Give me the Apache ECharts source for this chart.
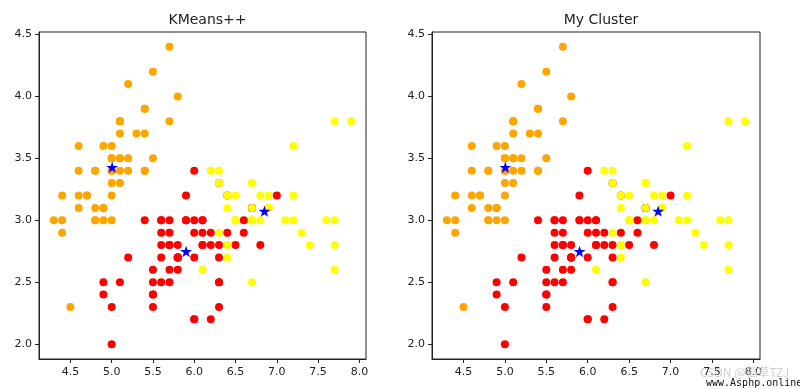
<!DOCTYPE html>
<html>
<head>
<meta charset="utf-8">
<script src="https://cdn.jsdelivr.net/npm/echarts@6/dist/echarts.min.js"></script>
<style>
html,body{margin:0;padding:0;background:#fff;}
#chart{width:800px;height:389px;}
</style>
</head>
<body>
<div id="chart"></div>
<script>
// Iris sepal length / sepal width (150 samples)
const sepalLength = [
5.1,4.9,4.7,4.6,5.0,5.4,4.6,5.0,4.4,4.9,5.4,4.8,4.8,4.3,5.8,5.7,5.4,5.1,5.7,5.1,5.4,5.1,4.6,5.1,4.8,5.0,5.0,5.2,5.2,4.7,4.8,5.4,5.2,5.5,4.9,5.0,5.5,4.9,4.4,5.1,5.0,4.5,4.4,5.0,5.1,4.8,5.1,4.6,5.3,5.0,
7.0,6.4,6.9,5.5,6.5,5.7,6.3,4.9,6.6,5.2,5.0,5.9,6.0,6.1,5.6,6.7,5.6,5.8,6.2,5.6,5.9,6.1,6.3,6.1,6.4,6.6,6.8,6.7,6.0,5.7,5.5,5.5,5.8,6.0,5.4,6.0,6.7,6.3,5.6,5.5,5.5,6.1,5.8,5.0,5.6,5.7,5.7,6.2,5.1,5.7,
6.3,5.8,7.1,6.3,6.5,7.6,4.9,7.3,6.7,7.2,6.5,6.4,6.8,5.7,5.8,6.4,6.5,7.7,7.7,6.0,6.9,5.6,7.7,6.3,6.7,7.2,6.2,6.1,6.4,7.2,7.4,7.9,6.4,6.3,6.1,7.7,6.3,6.4,6.0,6.9,6.7,6.9,5.8,6.8,6.7,6.7,6.3,6.5,6.2,5.9
];
const sepalWidth = [
3.5,3.0,3.2,3.1,3.6,3.9,3.4,3.4,2.9,3.1,3.7,3.4,3.0,3.0,4.0,4.4,3.9,3.5,3.8,3.8,3.4,3.7,3.6,3.3,3.4,3.0,3.4,3.5,3.4,3.2,3.1,3.4,4.1,4.2,3.1,3.2,3.5,3.6,3.0,3.4,3.5,2.3,3.2,3.5,3.8,3.0,3.8,3.2,3.7,3.3,
3.2,3.2,3.1,2.3,2.8,2.8,3.3,2.4,2.9,2.7,2.0,3.0,2.2,2.9,2.9,3.1,3.0,2.7,2.2,2.5,3.2,2.8,2.5,2.8,2.9,3.0,2.8,3.0,2.9,2.6,2.4,2.4,2.7,2.7,3.0,3.4,3.1,2.3,3.0,2.5,2.6,3.0,2.6,2.3,2.7,3.0,2.9,2.9,2.5,2.8,
3.3,2.7,3.0,2.9,3.0,3.0,2.5,2.9,2.5,3.6,3.2,2.7,3.0,2.5,2.8,3.2,3.0,3.8,2.6,2.2,3.2,2.8,2.8,2.7,3.3,3.2,2.8,3.0,2.8,3.0,2.8,3.8,2.8,2.8,2.6,3.0,3.4,3.1,3.0,3.1,3.1,3.1,2.7,3.2,3.3,3.0,2.5,3.0,3.4,3.0
];
// cluster labels: 0 = red, 1 = orange, 2 = yellow
const kmeansLabels = [
1,1,1,1,1,1,1,1,1,1,1,1,1,1,1,1,1,1,1,1,1,1,1,1,1,1,1,1,1,1,1,1,1,1,1,1,1,1,1,1,1,1,1,1,1,1,1,1,1,1,
0,0,2,0,0,0,0,0,0,0,0,0,0,0,0,0,0,0,0,0,0,0,0,0,0,0,0,2,0,0,0,0,0,0,0,0,0,0,0,0,0,0,0,0,0,0,0,0,0,0,
2,0,2,2,2,2,0,2,2,2,2,2,2,0,0,2,2,2,2,0,2,0,2,0,2,2,0,0,2,2,2,2,2,0,2,2,2,2,0,2,2,2,0,2,2,2,0,2,2,0
];
const myLabels = kmeansLabels.slice();
const kmeansCentersX = [5.9016, 5.006, 6.85];
const kmeansCentersY = [2.7484, 3.428, 3.0737];
const myCentersX = [5.9016, 5.006, 6.85];
const myCentersY = [2.7484, 3.428, 3.0737];
const clusterColors = ['#ff0000', '#ffa500', '#ffff00'];
const titles = ['KMeans++', 'My Cluster'];
const xTicks = [4.5, 5.0, 5.5, 6.0, 6.5, 7.0, 7.5, 8.0];
const yTicks = [2.0, 2.5, 3.0, 3.5, 4.0, 4.5];

const STAR = 'path://M50 0 L61.23 34.55 L97.55 34.55 L68.16 55.9 L79.39 90.45 L50 69.1 L20.61 90.45 L31.84 55.9 L2.45 34.55 L38.77 34.55 Z';
const FONT = 'DejaVu Sans';

function pointsFor(labels, c) {
  const out = [];
  for (let i = 0; i < sepalLength.length; i++) {
    if (labels[i] === c) out.push([sepalLength[i], sepalWidth[i]]);
  }
  return out;
}

const grids = [
  {left: 39, top: 32, width: 327, height: 327},
  {left: 432, top: 32, width: 328, height: 327}
];

function xAxis(g) {
  return {
    type: 'value', gridIndex: g, min: 4.12, max: 8.08,
    splitLine: {show: false},
    axisLine: {show: true, onZero: false, lineStyle: {color: '#222', width: 1}},
    axisTick: {show: true, length: 4, customValues: xTicks, lineStyle: {color: '#222'}},
    axisLabel: {customValues: xTicks, margin: 8, color: '#222', fontSize: 11, fontFamily: FONT,
      formatter: v => v.toFixed(1)}
  };
}
function yAxis(g) {
  return {
    type: 'value', gridIndex: g, min: 1.88, max: 4.52,
    splitLine: {show: false},
    axisLine: {show: true, onZero: false, lineStyle: {color: '#222', width: 1}},
    axisTick: {show: true, length: 4, customValues: yTicks, lineStyle: {color: '#222'}},
    axisLabel: {customValues: yTicks, margin: 7, color: '#222', fontSize: 11, fontFamily: FONT,
      formatter: v => v.toFixed(1)}
  };
}

const series = [];
[[kmeansLabels, kmeansCentersX, kmeansCentersY], [myLabels, myCentersX, myCentersY]].forEach((set, g) => {
  [0, 1, 2].forEach(c => {
    series.push({
      type: 'scatter', xAxisIndex: g, yAxisIndex: g,
      data: pointsFor(set[0], c), symbol: 'circle', symbolSize: 8,
      itemStyle: {color: clusterColors[c], opacity: 1},
      emphasis: {disabled: true}, animation: false
    });
  });
  series.push({
    type: 'scatter', xAxisIndex: g, yAxisIndex: g,
    data: set[1].map((x, i) => [x, set[2][i]]),
    symbol: STAR, symbolSize: 12, symbolKeepAspect: true,
    itemStyle: {color: '#0000ff', opacity: 1}, z: 5,
    emphasis: {disabled: true}, animation: false
  });
});

const chart = echarts.init(document.getElementById('chart'), null, {renderer: 'canvas'});
chart.setOption({
  backgroundColor: '#fff',
  animation: false,
  title: titles.map((t, i) => ({
    text: t, left: grids[i].left + grids[i].width / 2, top: 8, textAlign: 'center',
    textStyle: {fontFamily: FONT, fontSize: 14, fontWeight: 'normal', color: '#222'}
  })),
  grid: grids.map(g => Object.assign({show: true, borderColor: '#222', borderWidth: 1, backgroundColor: '#fff'}, g)),
  xAxis: [xAxis(0), xAxis(1)],
  yAxis: [yAxis(0), yAxis(1)],
  series: series,
  graphic: [
    {type: 'text', left: 700, top: 366, style: {text: 'CSDN @稻草TZJ', fill: '#d0d0d0', font: '12px "Noto Sans CJK SC"'}, z: 10},
    {type: 'text', left: 706, top: 378, style: {text: 'www.Asphp.online', fill: '#111', font: '10px "DejaVu Sans Mono"'}, z: 11}
  ]
});
</script>
</body>
</html>
